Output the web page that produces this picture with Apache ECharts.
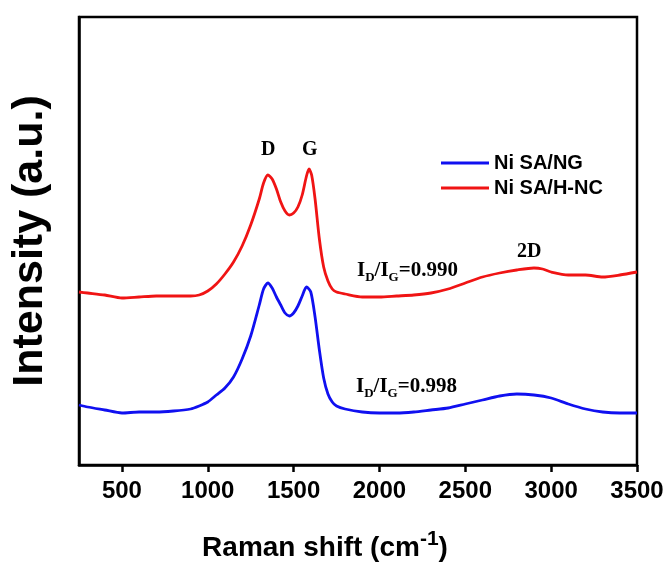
<!DOCTYPE html>
<html>
<head>
<meta charset="utf-8">
<title>Raman</title>
<script src="https://cdn.jsdelivr.net/npm/echarts@6/dist/echarts.min.js"></script>
<style>
  html, body { margin: 0; padding: 0; background: #fff; }
  #chart { width: 672px; height: 570px; }
</style>
</head>
<body>
<div id="chart"></div>
<script>
// 数据 (a.u.)
const tickValues = [500, 1000, 1500, 2000, 2500, 3000, 3500]

const blueShift = [250, 300, 400, 500, 600, 700, 800, 900, 950, 1000, 1050, 1100, 1150, 1200, 1250, 1300, 1325, 1350, 1375, 1400, 1425, 1450, 1475, 1500, 1525, 1550, 1575, 1600, 1625, 1650, 1675, 1700, 1725, 1750, 1800, 1900, 2000, 2100, 2200, 2300, 2400, 2500, 2600, 2700, 2800, 2900, 3000, 3100, 3200, 3300, 3400, 3500]
const blueIntensity = [60, 58, 55, 52, 53, 53, 54, 56, 59, 63, 70, 77, 88, 106, 129, 160, 176, 182, 177, 168, 160, 152, 149, 152, 159, 169, 178, 173, 148, 115, 87, 71, 63, 59, 56, 53, 52, 52, 53, 55, 57, 61, 65, 69, 71, 70, 67, 61, 56, 53, 52, 52]

const redShift = [250, 300, 400, 500, 600, 700, 800, 900, 950, 1000, 1050, 1100, 1150, 1200, 1250, 1300, 1325, 1350, 1375, 1400, 1425, 1450, 1475, 1500, 1525, 1550, 1575, 1590, 1605, 1625, 1650, 1675, 1700, 1725, 1750, 1800, 1900, 2000, 2100, 2200, 2300, 2400, 2500, 2600, 2700, 2800, 2900, 2950, 3000, 3100, 3200, 3300, 3400, 3500]
const redIntensity = [173, 172, 170, 167, 168, 169, 169, 169, 170, 174, 181, 191, 203, 219, 240, 266, 282, 290, 286, 276, 263, 254, 250, 252, 258, 270, 289, 296, 290, 266, 226, 198, 184, 176, 173, 171, 168, 168, 169, 170, 172, 176, 182, 188, 192, 195, 197, 196, 193, 190, 190, 188, 190, 193]

const sans = 'Liberation Sans, Arial, sans-serif'
const serif = 'Liberation Serif, Times New Roman, serif'

function pairs (xs, ys) {
  return xs.map((x, i) => [x, ys[i]])
}

// I_D/I_G 文本
function ratioText (v) {
  return '{i|I}{s|D}{i|/I}{s|G}{i|=' + v + '}'
}
const ratioRich = {
  i: { fontFamily: serif, fontWeight: 'bold', fontSize: 21, lineHeight: 21, verticalAlign: 'top', color: '#000' },
  s: { fontFamily: serif, fontWeight: 'bold', fontSize: 13, lineHeight: 13, padding: [14, 0, 0, 0], color: '#000' }
}
const peakStyle = { fontFamily: serif, fontWeight: 'bold', fontSize: 20, fill: '#000' }

let myChart = echarts.init(document.getElementById('chart'))
let option = {
  animation: false,
  backgroundColor: '#fff',
  grid: {
    left: 79,
    right: 35,
    top: 17,
    bottom: 105,
    show: true,
    borderColor: '#000',
    borderWidth: 2.5
  },
  legend: {
    orient: 'vertical',
    left: 436,
    top: 148,
    itemWidth: 48,
    itemHeight: 3,
    itemGap: 5,
    icon: 'rect',
    data: ['Ni SA/NG', 'Ni SA/H-NC'],
    textStyle: { fontFamily: sans, fontWeight: 'bold', fontSize: 20, color: '#000' }
  },
  xAxis: {
    type: 'value',
    min: 250,
    max: 3500,
    name: '{a|Raman shift (cm}{s|-1}{a|)}',
    nameLocation: 'middle',
    nameGap: 64,
    nameTextStyle: {
      padding: [0, 66, 0, 0],
      rich: {
        a: { fontFamily: sans, fontWeight: 'bold', fontSize: 28, lineHeight: 33, verticalAlign: 'bottom', color: '#000' },
        s: { fontFamily: sans, fontWeight: 'bold', fontSize: 21, lineHeight: 21, verticalAlign: 'top', color: '#000' }
      }
    },
    splitLine: { show: false },
    axisLine: { show: true, lineStyle: { color: '#000', width: 2.5 } },
    axisTick: { show: true, inside: false, length: 7, customValues: tickValues, lineStyle: { color: '#000', width: 2.5 } },
    axisLabel: {
      customValues: tickValues,
      formatter: v => String(v),
      margin: 14,
      fontFamily: sans,
      fontWeight: 'bold',
      fontSize: 24,
      color: '#000'
    }
  },
  yAxis: {
    type: 'value',
    min: 0,
    max: 448,
    name: 'Intensity (a.u.)',
    nameLocation: 'middle',
    nameRotate: 90,
    nameGap: 27,
    nameTextStyle: { fontFamily: sans, fontWeight: 'bold', fontSize: 43, color: '#000' },
    splitLine: { show: false },
    axisLine: { show: true, lineStyle: { color: '#000', width: 2.5 } },
    axisTick: { show: false },
    axisLabel: { show: false }
  },
  series: [
    {
      name: 'Ni SA/NG',
      type: 'line',
      smooth: 0.25,
      showSymbol: false,
      color: '#1010f0',
      lineStyle: { width: 2.8 },
      data: pairs(blueShift, blueIntensity)
    },
    {
      name: 'Ni SA/H-NC',
      type: 'line',
      smooth: 0.25,
      showSymbol: false,
      color: '#f01414',
      lineStyle: { width: 2.8 },
      data: pairs(redShift, redIntensity)
    }
  ],
  // 峰标注
  graphic: [
    { type: 'text', left: 261, top: 140, style: Object.assign({ text: 'D' }, peakStyle) },
    { type: 'text', left: 302, top: 140, style: Object.assign({ text: 'G' }, peakStyle) },
    { type: 'text', left: 517, top: 242, style: Object.assign({ text: '2D' }, peakStyle) },
    { type: 'text', left: 357, top: 257, style: { text: ratioText('0.990'), rich: ratioRich } },
    { type: 'text', left: 356, top: 373, style: { text: ratioText('0.998'), rich: ratioRich } }
  ]
}
myChart.setOption(option)
</script>
</body>
</html>
